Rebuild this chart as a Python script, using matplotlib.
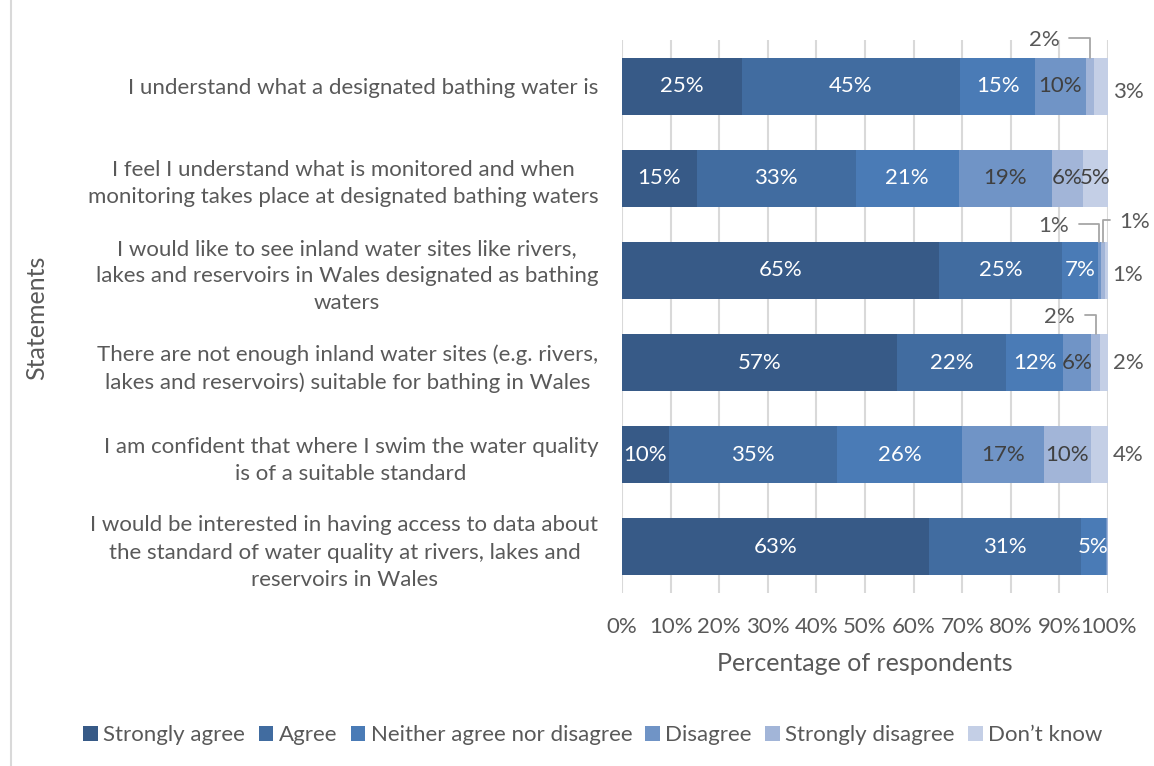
import matplotlib
matplotlib.use("Agg")
import matplotlib.pyplot as plt
from matplotlib.lines import Line2D
from matplotlib.patches import Patch

plt.rcParams['font.family'] = ['Lato', 'DejaVu Sans']

# Statements (top to bottom)
statements = [
    "I understand what a designated bathing water is",
    "I feel I understand what is monitored and when\nmonitoring takes place at designated bathing waters",
    "I would like to see inland water sites like rivers,\nlakes and reservoirs in Wales designated as bathing\nwaters",
    "There are not enough inland water sites (e.g. rivers,\nlakes and reservoirs) suitable for bathing in Wales",
    "I am confident that where I swim the water quality\nis of a suitable standard",
    "I would be interested in having access to data about\nthe standard of water quality at rivers, lakes and\nreservoirs in Wales",
]

responses = ["Strongly agree", "Agree", "Neither agree nor disagree",
             "Disagree", "Strongly disagree", "Don\u2019t know"]

# Share of respondents (%) per statement, one list per response
strongly_agree = [24.6, 15.4, 65.2, 56.6, 9.6, 63.2]
agree          = [45.0, 32.7, 25.3, 22.4, 34.6, 31.2]
neither        = [15.4, 21.2, 7.4, 11.8, 25.8, 5.2]
disagree       = [10.4, 19.2, 0.7, 5.8, 16.8, 0.2]
strongly_dis   = [1.8, 6.3, 0.7, 1.7, 9.6, 0.1]
dont_know      = [2.8, 5.2, 0.7, 1.7, 3.6, 0.1]

series = [strongly_agree, agree, neither, disagree, strongly_dis, dont_know]
colors = ["#375a87", "#416ca0", "#4a7bb6", "#7094c6", "#a2b5d8", "#c4cfe6"]
label_colors = ["white", "white", "white", "#404040", "#404040", "#404040"]

TEXT = "#595959"
FS = 16
FS_TITLE = 18

fig = plt.figure(figsize=(11.54, 7.66), dpi=100)
ax = fig.add_axes([622 / 1154, 1 - 593 / 766, (1108 - 622) / 1154, (593 - 40) / 766])

ypos = list(range(len(statements)))
left = [0.0] * len(statements)
bars = []
for vals, col, name in zip(series, colors, responses):
    b = ax.barh(ypos, vals, left=left, height=0.62, color=col, label=name,
                edgecolor="none", zorder=3)
    bars.append(b)
    left = [l + v for l, v in zip(left, vals)]

# Labels placed away from their segment: (row, series) -> (dx px, up px, kind, side)
#   kind 'top' = leader line down to the top of the segment,
#   kind 'end' = just right of the bar end
outside = {
    (0, 4): (-46, 18, 'top', 'right'),
    (0, 5): (20, -6, 'end', None),
    (2, 3): (-46, 16, 'top', 'right'),
    (2, 4): (32, 20, 'top', 'left'),
    (2, 5): (20, -5, 'end', None),
    (3, 4): (-36, 17, 'top', 'right'),
    (3, 5): (20, 0, 'end', None),
    (4, 5): (20, 0, 'end', None),
}

for si, (vals, b) in enumerate(zip(series, bars)):
    for ri, (v, rect) in enumerate(zip(vals, b.patches)):
        pct = round(v)
        if pct < 1:
            continue
        txt = f"{pct}%"
        cx = rect.get_x() + rect.get_width() / 2
        cy = rect.get_y() + rect.get_height() / 2
        key = (ri, si)
        if key in outside:
            dx, up, kind, side = outside[key]
            if kind == 'end':
                ax.annotate(txt, xy=(rect.get_x() + rect.get_width(), cy),
                            xytext=(dx, up), textcoords='offset pixels',
                            ha='center', va='center', fontsize=FS, color=TEXT,
                            annotation_clip=False)
            else:
                ax.annotate(txt, xy=(cx, rect.get_y()), xytext=(dx, up),
                            textcoords='offset pixels', ha='center', va='center',
                            fontsize=FS, color=TEXT, annotation_clip=False,
                            arrowprops=dict(arrowstyle='-', color='#a6a6a6', lw=1.3,
                                            connectionstyle='angle,angleA=0,angleB=90,rad=0',
                                            relpos=(1, 0.6) if side == 'right' else (0, 0.6),
                                            shrinkA=5, shrinkB=0))
        else:
            ax.text(cx, cy, txt, ha='center', va='center', fontsize=FS,
                    color=label_colors[si], zorder=4)

ax.set_xlim(0, 100)
ax.set_ylim(len(statements) - 0.5, -0.5)
ax.set_xticks(range(0, 101, 10))
ax.set_xticklabels([f"{t}%" for t in range(0, 101, 10)])
ax.set_yticks(ypos)
ax.set_yticklabels(statements)
for lab in ax.get_yticklabels():
    lab.set_multialignment('center')
    lab.set_linespacing(1.45)

ax.tick_params(axis='both', length=0, labelsize=FS, colors=TEXT)
ax.tick_params(axis='x', pad=17)
ax.tick_params(axis='y', pad=17)
ax.grid(axis='x', color='#d9d9d9', lw=1.5, zorder=0)
ax.grid(axis='y', visible=False)
for s in ax.spines.values():
    s.set_visible(False)

ax.set_xlabel("Percentage of respondents", fontsize=FS_TITLE, color=TEXT, labelpad=11)
fig.text(37 / 1154, 1 - 318 / 766, "Statements", rotation=90, ha='center',
         va='center', fontsize=FS_TITLE, color=TEXT)

handles = [Patch(facecolor=c, edgecolor='none') for c in colors]
fig.legend(handles, responses, loc='center', bbox_to_anchor=(593 / 1154, 1 - 735 / 766),
           ncol=6, frameon=False, fontsize=FS, labelcolor=TEXT,
           handlelength=0.65, handleheight=0.65, handletextpad=0.25, columnspacing=0.6)

fig.add_artist(Line2D([11 / 1154, 11 / 1154], [0, 1], color='#d9d9d9', lw=1.5))

fig.savefig("out.png", dpi=100, facecolor='white')
